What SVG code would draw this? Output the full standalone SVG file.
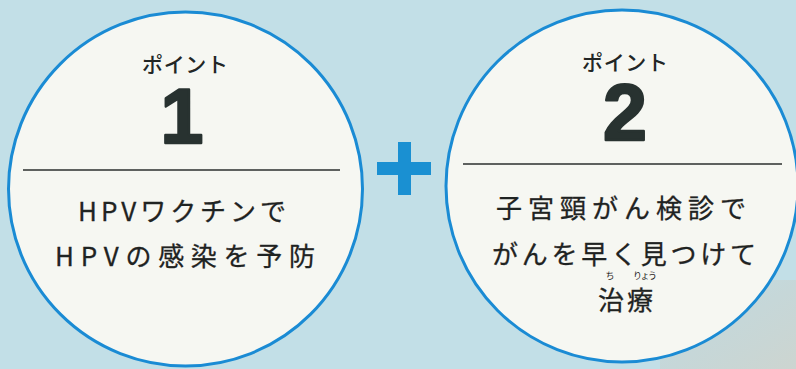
<svg xmlns="http://www.w3.org/2000/svg" width="796" height="369" viewBox="0 0 796 369">
<defs>
<linearGradient id="shade" x1="0" y1="0" x2="1" y2="1">
<stop offset="0" stop-color="#c8d2cf" stop-opacity="0"/>
<stop offset="0.5" stop-color="#c8d2cf" stop-opacity="0.6"/>
<stop offset="1" stop-color="#cfd3cc" stop-opacity="0.85"/>
</linearGradient>
</defs>
<style>
.circ{fill:#f6f7f2;stroke:#1a8bd4;stroke-width:3}
.rule{stroke:#2b2f2e;stroke-width:1.6}
.lbl{font-family:"Noto Sans CJK JP","Noto Sans",sans-serif;font-size:21px;font-weight:500;fill:#222625;text-anchor:middle}
.num{font-family:"Liberation Sans",Arial,sans-serif;font-weight:bold;fill:#283230;stroke:#283230;stroke-width:2.4;stroke-linejoin:round;text-anchor:middle}
.body{font-family:"Noto Sans CJK JP","Noto Sans",sans-serif;font-size:26px;fill:#1f2322;stroke:#1f2322;stroke-width:0.3;text-anchor:middle}
.ruby{font-family:"Noto Sans CJK JP",sans-serif;font-size:9px;fill:#1f2322;text-anchor:middle}
.plus{fill:#1a90d2}
</style>
<rect width="796" height="369" fill="#c2dfe7"/>
<rect x="660" y="280" width="136" height="89" fill="url(#shade)"/>
<g id="point1">
<circle class="circ" cx="185.5" cy="189" r="177"/>
<text class="lbl" x="185" y="72" textLength="86" lengthAdjust="spacing">ポイント</text>
<text class="num" x="182" y="143" font-size="77">1</text>
<line class="rule" x1="23" y1="170" x2="340" y2="170"/>
<text class="body" x="182" y="221" textLength="208" lengthAdjust="spacing">HPVワクチンで</text>
<text class="body" x="185" y="266" textLength="260" lengthAdjust="spacing">HPVの感染を予防</text>
</g>
<g id="plus">
<rect class="plus" x="398" y="142" width="13" height="53"/>
<rect class="plus" x="377" y="162" width="54" height="13"/>
</g>
<g id="point2">
<circle class="circ" cx="622" cy="186" r="176"/>
<text class="lbl" x="625" y="70" textLength="86" lengthAdjust="spacing">ポイント</text>
<text class="num" x="625" y="140" font-size="79">2</text>
<line class="rule" x1="463" y1="164" x2="782" y2="164"/>
<text class="body" x="621" y="218" textLength="250" lengthAdjust="spacing">子宮頸がん検診で</text>
<text class="body" x="624" y="264" textLength="264" lengthAdjust="spacing">がんを早く見つけて</text>
<text class="ruby" x="610" y="279">ち</text>
<text class="ruby" x="645" y="279" textLength="24" lengthAdjust="spacing">りょう</text>
<text class="body" x="627" y="310" font-size="28" letter-spacing="3">治療</text>
</g>
</svg>
